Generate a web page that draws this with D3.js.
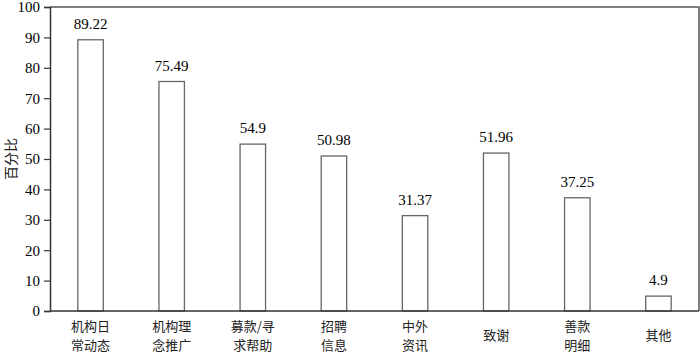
<!DOCTYPE html>
<html>
<head>
<meta charset="utf-8">
<script src="https://cdn.jsdelivr.net/npm/d3@7"></script>
<style>
  body { margin: 0; background: #fff; }
  svg { display: block; }
</style>
</head>
<body>
<div id="chart"></div>
<script>
const categories = [
  ['机构日', '常动态'],
  ['机构理', '念推广'],
  ['募款/寻', '求帮助'],
  ['招聘', '信息'],
  ['中外', '资讯'],
  ['致谢'],
  ['善款', '明细'],
  ['其他']
];
const values = [89.22, 75.49, 54.9, 50.98, 31.37, 51.96, 37.25, 4.9];
const yTicks = [0, 10, 20, 30, 40, 50, 60, 70, 80, 90, 100];

const serif = '"Liberation Serif", "Times New Roman", serif';
const cjk = '"Noto Sans CJK SC", sans-serif';

const width = 700, height = 354;
const margin = { top: 7, right: 1, bottom: 43, left: 50 };

const svg = d3.select('#chart').append('svg')
  .attr('width', width)
  .attr('height', height);

const x = d3.scaleBand()
  .domain(d3.range(categories.length))
  .range([margin.left, width - margin.right])
  .paddingInner(0.686)
  .paddingOuter(0.343);

const y = d3.scaleLinear()
  .domain([0, 100])
  .range([height - margin.bottom, margin.top]);

// frame (top + right)
svg.append('path')
  .attr('d', `M${margin.left},${margin.top}H${width - margin.right}V${height - margin.bottom}`)
  .attr('fill', 'none')
  .attr('stroke', '#555')
  .attr('stroke-width', 1.5);

// bars
svg.selectAll('rect.bar')
  .data(values)
  .join('rect')
  .attr('class', 'bar')
  .attr('x', (d, i) => x(i))
  .attr('y', d => y(d))
  .attr('width', x.bandwidth())
  .attr('height', d => y(0) - y(d))
  .attr('fill', '#fff')
  .attr('stroke', '#666')
  .attr('stroke-width', 1.3);

svg.selectAll('text.val-label')
  .data(values)
  .join('text')
  .attr('class', 'val-label')
  .attr('x', (d, i) => x(i) + x.bandwidth() / 2)
  .attr('y', d => y(d) - 11)
  .attr('text-anchor', 'middle')
  .style('font-family', serif)
  .style('font-size', '15px')
  .text(d => d);

// y axis
const yAxis = svg.append('g')
  .attr('transform', `translate(${margin.left},0)`)
  .call(d3.axisLeft(y).tickValues(yTicks).tickSize(6).tickPadding(4));
yAxis.attr('font-family', null).attr('font-size', null);
yAxis.selectAll('.tick text')
  .style('font-family', serif)
  .style('font-size', '15px')
  .attr('fill', '#000');
yAxis.select('.domain').attr('stroke', '#333').attr('stroke-width', 1.5);
yAxis.selectAll('.tick line').attr('stroke', '#333').attr('stroke-width', 1.2);

// x axis line
svg.append('line')
  .attr('x1', margin.left).attr('x2', width - margin.right)
  .attr('y1', y(0)).attr('y2', y(0))
  .attr('stroke', '#333').attr('stroke-width', 1.5);

// category labels, one text per line
categories.forEach((lines, i) => {
  const cx = x(i) + x.bandwidth() / 2;
  const startY = lines.length === 1 ? 340 : 331;
  lines.forEach((s, k) => {
    svg.append('text')
      .attr('class', 'cat-label')
      .attr('x', cx)
      .attr('y', startY + k * 19)
      .attr('text-anchor', 'middle')
      .attr('fill', '#222')
      .style('font-family', cjk)
      .style('font-size', '13px')
      .text(s);
  });
});

// y title
svg.append('text')
  .attr('class', 'y-title')
  .attr('transform', `translate(16,${(y(0) + y(100)) / 2}) rotate(-90)`)
  .attr('text-anchor', 'middle')
  .attr('fill', '#222')
  .style('font-family', cjk)
  .style('font-size', '14px')
  .text('百分比');
</script>
</body>
</html>
